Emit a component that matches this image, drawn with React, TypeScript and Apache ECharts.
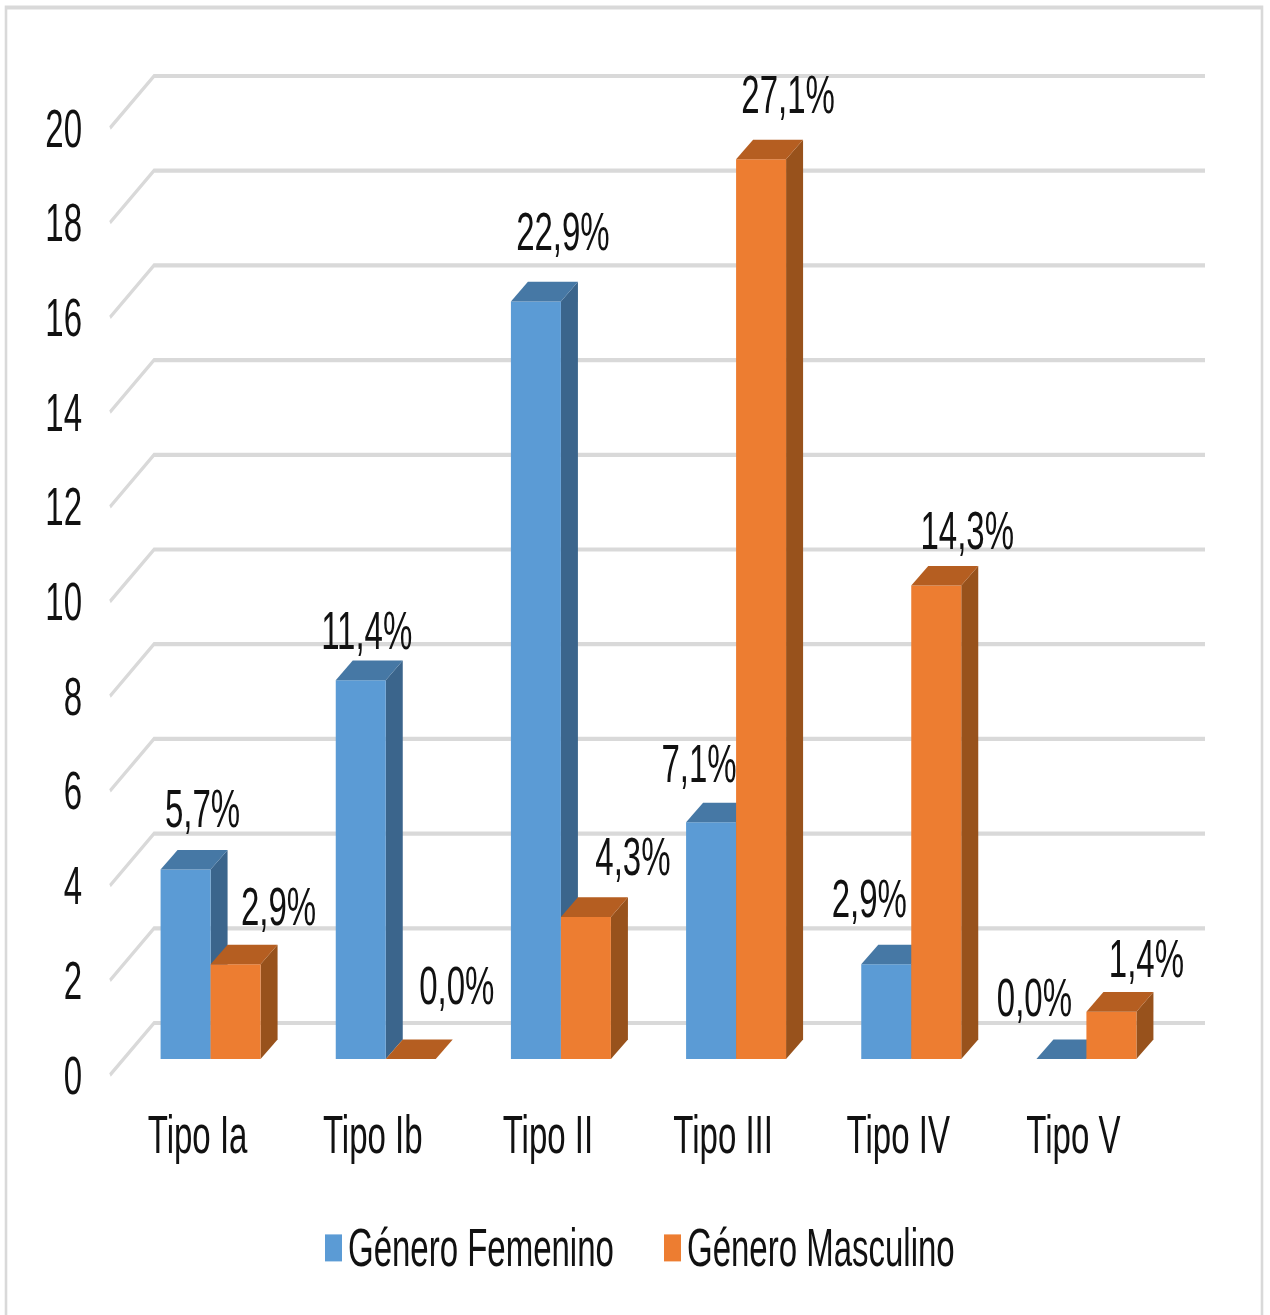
import React, { useEffect, useRef } from "react";
import * as echarts from "echarts";

// ---- data ----
const categories = ["Tipo Ia", "Tipo Ib", "Tipo II", "Tipo III", "Tipo IV", "Tipo V"];
const femenino = [4, 8, 16, 5, 2, 0];
const masculino = [2, 0, 3, 19, 10, 1];
const femeninoLabels = ["5,7%", "11,4%", "22,9%", "7,1%", "2,9%", "0,0%"];
const masculinoLabels = ["2,9%", "0,0%", "4,3%", "27,1%", "14,3%", "1,4%"];
const yTicks = [0, 2, 4, 6, 8, 10, 12, 14, 16, 18, 20];

// ---- layout (screen px; the whole chart is stretched vertically like the source image) ----
const W = 1270;
const H = 1315;
const SY = 1.6;
const sy = (v: number) => v / SY;
const FONT = '"Liberation Sans", Arial, sans-serif';
const FS = 33;
const TXT = "#111111";
const WALL_DX = 44;
const WALL_DY = sy(52);
const BAR_OFF_X = 13;
const BAR_OFF_Y = sy(16);
const BAR_W = 50;
const DEPTH_X = 17;
const DEPTH_Y = sy(19.6);
const GRID = "#D9D9D9";
const LABEL_SHIFT = -1;
const femOffsets = [[17, -60], [6, -49], [27, -69], [-12, -58], [-17, -65], [-27, -61]];
const mascOffsets = [[43, -57], [46, -73], [47, -60], [27, -64], [31, -54], [35, -52]];

function barRenderer(
  side: 0 | 1,
  front: string,
  top: string,
  right: string,
  labels: string[],
  offsets: number[][]
) {
  return (params: any, api: any) => {
    const i = api.value(0);
    const v = api.value(1);
    const t = api.coord([i, v]);
    const b = api.coord([i, 0]);
    const x0 = t[0] + BAR_OFF_X + (side === 0 ? -BAR_W : 0);
    const x1 = x0 + BAR_W;
    const yT = t[1] - BAR_OFF_Y;
    const yB = b[1] - BAR_OFF_Y;
    const children: any[] = [];
    if (v > 0) {
      children.push({
        type: "polygon",
        shape: { points: [[x1, yT], [x1 + DEPTH_X, yT - DEPTH_Y], [x1 + DEPTH_X, yB - DEPTH_Y], [x1, yB]] },
        style: { fill: right },
      });
      children.push({
        type: "polygon",
        shape: { points: [[x0, yT], [x1, yT], [x1, yB], [x0, yB]] },
        style: { fill: front },
      });
    }
    children.push({
      type: "polygon",
      shape: { points: [[x0, yT], [x0 + DEPTH_X, yT - DEPTH_Y], [x1 + DEPTH_X, yT - DEPTH_Y], [x1, yT]] },
      style: { fill: top },
    });
    const cx = (x0 + x1) / 2;
    children.push({
      type: "text",
      z2: 100,
      style: {
        text: labels[i],
        x: cx + offsets[i][0],
        y: yT + sy(offsets[i][1] + LABEL_SHIFT),
        align: "center",
        verticalAlign: "middle",
        font: `${FS}px ${FONT}`,
        fill: TXT,
      },
    });
    return { type: "group", children };
  };
}

export default function App() {
  const ref = useRef<HTMLDivElement>(null);
  useEffect(() => {
    const chart = echarts.init(ref.current!, undefined, { renderer: "svg" });
    chart.setOption({
      animation: false,
      backgroundColor: "#FFFFFF",
      graphic: [
        {
          type: "rect",
          silent: true,
          shape: { x: 6, y: sy(7.5), width: 1256, height: sy(1340) },
          style: { fill: "none", stroke: GRID, lineWidth: 2.6 },
        },
      ],
      grid: { left: 110, width: 1051, top: sy(128), height: sy(947) },
      xAxis: {
        type: "category",
        data: categories,
        axisLine: { show: false },
        axisTick: { show: false },
        axisLabel: { fontFamily: FONT, fontSize: FS, color: TXT, margin: 20.5, interval: 0 },
      },
      yAxis: {
        type: "value",
        min: 0,
        max: 20,
        interval: 2,
        splitLine: { show: false },
        axisLine: { show: false },
        axisTick: { show: false },
        axisLabel: { fontFamily: FONT, fontSize: FS, color: TXT, margin: 28, padding: [0, 0, 5, 0] },
      },
      legend: {
        left: 325,
        top: sy(1221.5),
        padding: 0,
        itemWidth: 17,
        itemHeight: sy(27),
        itemGap: 50,
        icon: "rect",
        data: ["Género Femenino", "Género Masculino"],
        textStyle: { fontFamily: FONT, fontSize: FS, color: TXT, padding: [0, 0, 0, 1] },
      },
      series: [
        {
          type: "custom",
          name: "walls",
          silent: true,
          clip: false,
          z: 1,
          data: yTicks.map((t) => [0, t]),
          encode: { x: 0, y: 1 },
          renderItem: (params: any, api: any) => {
            const y = api.coord([0, api.value(1)])[1];
            const left = params.coordSys.x;
            const right = left + params.coordSys.width;
            return {
              type: "polyline",
              shape: {
                points: [
                  [left, y],
                  [left + WALL_DX, y - WALL_DY],
                  [right + WALL_DX, y - WALL_DY],
                ],
              },
              style: { fill: "none", stroke: GRID, lineWidth: 2.6 },
            };
          },
        },
        {
          type: "custom",
          name: "Género Femenino",
          silent: true,
          clip: false,
          z: 2,
          itemStyle: { color: "#5B9BD5" },
          data: femenino.map((v, i) => [i, v]),
          encode: { x: 0, y: 1 },
          renderItem: barRenderer(0, "#5B9BD5", "#4678A5", "#3B658C", femeninoLabels, femOffsets),
        },
        {
          type: "custom",
          name: "Género Masculino",
          silent: true,
          clip: false,
          z: 3,
          itemStyle: { color: "#ED7D31" },
          data: masculino.map((v, i) => [i, v]),
          encode: { x: 0, y: 1 },
          renderItem: barRenderer(1, "#ED7D31", "#B55E21", "#98521C", masculinoLabels, mascOffsets),
        },
      ],
    });
    return () => chart.dispose();
  }, []);
  return (
    <div style={{ position: "absolute", left: 0, top: 0, width: W, height: H, overflow: "hidden", background: "#fff", filter: "blur(0.5px)" }}>
      <div
        ref={ref}
        style={{ width: W, height: H / SY, transform: `scale(1, ${SY})`, transformOrigin: "0 0" }}
      />
    </div>
  );
}
